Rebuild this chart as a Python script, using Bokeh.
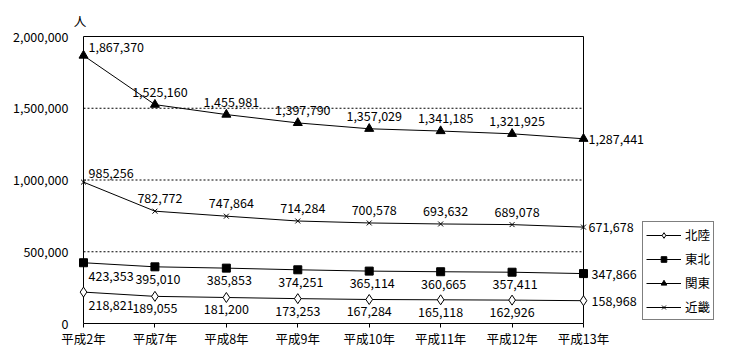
from bokeh.plotting import figure
from bokeh.models import (Range1d, FixedTicker, NumeralTickFormatter, Legend, LegendItem,
                          ColumnDataSource)
from bokeh.core.properties import value
from bokeh.embed import file_html
from bokeh.resources import INLINE

# ---- data ----
years = ["平成2年", "平成7年", "平成8年", "平成9年", "平成10年", "平成11年", "平成12年", "平成13年"]
hokuriku = [218821, 189055, 181200, 173253, 167284, 165118, 162926, 158968]
tohoku = [423353, 395010, 385853, 374251, 365114, 360665, 357411, 347866]
kanto = [1867370, 1525160, 1455981, 1397790, 1357029, 1341185, 1321925, 1287441]
kinki = [985256, 782772, 747864, 714284, 700578, 693632, 689078, 671678]
series_names = ["北陸", "東北", "関東", "近畿"]
y_ticks = [0, 500000, 1000000, 1500000, 2000000]
unit_label = "人"

FONT = "Noto Sans CJK JP"
xs = list(range(len(years)))

# layout (pixels): plot area is 500 px wide, the frame extends to hold the legend
W, H = 730, 360
LEFT, TOP, BOTTOM, RIGHT = 83, 36, 37, 10
AREA_W = 500
frame_w = W - LEFT - RIGHT
x_end = (len(years) - 1) * frame_w / AREA_W

p = figure(width=W, height=H, output_backend="svg", toolbar_location=None,
           x_range=Range1d(0, x_end), y_range=Range1d(y_ticks[0], y_ticks[-1]),
           min_border_left=LEFT, min_border_right=RIGHT, min_border_top=TOP,
           min_border_bottom=BOTTOM)
p.background_fill_color = "white"
p.border_fill_color = "white"
p.outline_line_color = None

# axes
p.xaxis.ticker = FixedTicker(ticks=xs)
p.xaxis.bounds = (xs[0], xs[-1])
p.xaxis.major_label_overrides = {i: y for i, y in enumerate(years)}
p.xaxis.major_tick_out = 4
p.xaxis.major_tick_in = 0
p.xaxis.minor_tick_line_color = None
p.xaxis.major_label_standoff = 1
p.yaxis.ticker = FixedTicker(ticks=y_ticks)
p.yaxis.formatter = NumeralTickFormatter(format="0,0")
p.yaxis.major_tick_out = 0
p.yaxis.major_tick_in = 0
p.yaxis.minor_tick_line_color = None
p.yaxis.major_label_standoff = 15
for ax in (p.xaxis, p.yaxis):
    ax.axis_line_color = "black"
    ax.major_tick_line_color = "black"
    ax.major_label_text_font = FONT
    ax.major_label_text_font_size = "12.5px"
    ax.major_label_text_color = "black"

p.xgrid.grid_line_color = None
p.ygrid.grid_line_color = None

# dashed gridlines limited to the plot area
grid_vals = y_ticks[1:-1]
p.segment(x0=[xs[0]] * len(grid_vals), x1=[xs[-1]] * len(grid_vals), y0=grid_vals, y1=grid_vals,
          line_color="black", line_width=1, line_dash="2 2", level="underlay")
# top and right borders of the plot area
p.segment(x0=[xs[0], xs[-1]], y0=[y_ticks[-1], y_ticks[0]], x1=[xs[-1], xs[-1]],
          y1=[y_ticks[-1], y_ticks[-1]], line_color="black", line_width=1, level="overlay")

items = []
styles = {
    "北陸": dict(marker="diamond", size=10, fill_color="white"),
    "東北": dict(marker="square", size=8, fill_color="black"),
    "関東": dict(marker="triangle", size=9, fill_color="black"),
    "近畿": dict(marker="x", size=7, fill_color="black"),
}
data = {"北陸": hokuriku, "東北": tohoku, "関東": kanto, "近畿": kinki}
label_above = {"北陸": False, "東北": False, "関東": True, "近畿": True}
mid_shift = {"北陸": 0, "東北": 3, "関東": 5, "近畿": 5}

for name in series_names:
    vals = data[name]
    n = len(vals)
    xo, yo, al = [], [], []
    above = label_above[name]
    for i in range(n):
        if i == n - 1:
            al.append("left"); xo.append(5 if above else 8); yo.append(0)
        elif i == 0:
            al.append("left"); xo.append(5); yo.append(-9 if above else 13)
        else:
            al.append("center"); xo.append(mid_shift[name]); yo.append(-13 if above else 12)
    src = ColumnDataSource(dict(x=xs, y=vals, t=[f"{v:,}" for v in vals], xo=xo, yo=yo, al=al))
    ln = p.line("x", "y", source=src, line_color="black", line_width=1, level="overlay")
    st = styles[name]
    sc = p.scatter("x", "y", source=src, marker=st["marker"], size=st["size"],
                   fill_color=st["fill_color"], line_color="black", line_width=1, level="overlay")
    p.text("x", "y", text="t", source=src, x_offset="xo", y_offset="yo", text_align="al",
           text_baseline="middle", text_font=value(FONT), text_font_size="12.5px",
           text_color="black", level="overlay")
    items.append(LegendItem(label=name, renderers=[ln, sc]))

# unit label above the y axis
p.text(x=[-0.05], y=[y_ticks[-1] * 1.056], text=[unit_label], text_align="center",
       text_baseline="middle", text_font=value(FONT), text_font_size="12.5px",
       text_color="black", level="overlay")

legend = Legend(items=items, location=(559, 3))
legend.border_line_color = "black"
legend.border_line_width = 1
legend.background_fill_color = "white"
legend.background_fill_alpha = 1
legend.padding = 3
legend.spacing = 5
legend.glyph_width = 35
legend.glyph_height = 14
legend.label_height = 14
legend.label_width = 25
legend.label_standoff = 4
legend.margin = 0
legend.label_text_font = FONT
legend.label_text_font_size = "12.5px"
legend.label_text_color = "black"
p.add_layout(legend, "center")

open("out.html", "w").write(file_html(p, INLINE))
